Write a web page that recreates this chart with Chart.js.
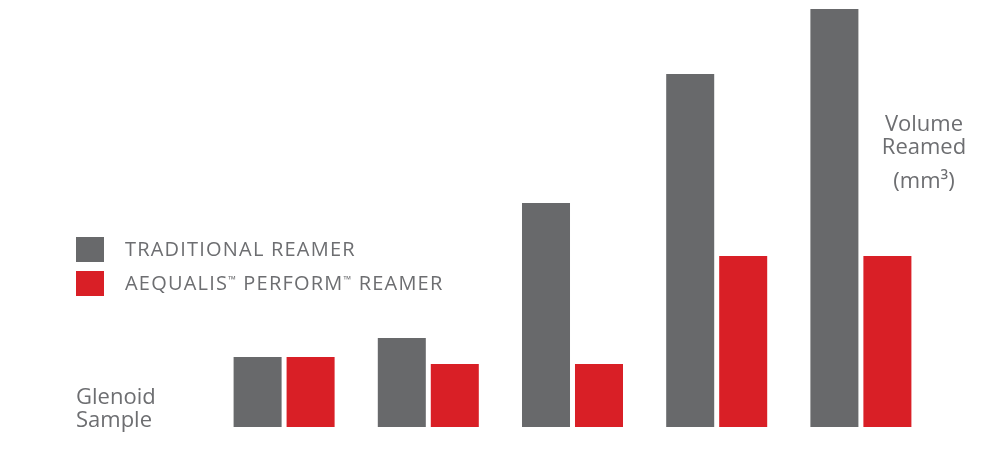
<!DOCTYPE html>
<html>
<head>
<meta charset="utf-8">
<script src="https://cdn.jsdelivr.net/npm/chart.js@4"></script>
<style>
  html, body { margin: 0; padding: 0; background: #fff; }
  #wrap { width: 990px; height: 450px; position: relative; }
</style>
</head>
<body>
<div id="wrap"><canvas id="chart" width="990" height="450"></canvas></div>
<script>
const samples = ["1", "2", "3", "4", "5"];
const traditionalReamer = [70, 89, 224, 353, 418];
const performReamer = [70, 63, 63, 171, 171];
const seriesNames = ["TRADITIONAL REAMER", "AEQUALIS\u2122 PERFORM\u2122 REAMER"];

const GRAY = "#68696b";
const RED = "#d91f26";
const TEXT = "#6d6e71";
const FONT = "'Open Sans', 'Noto Sans', sans-serif";

// draw text, shrinking any ™ into a small superscript
function drawLabel(ctx, text, x, y) {
  text.split(/(\u2122)/).forEach((part) => {
    if (!part) return;
    if (part === "\u2122") {
      ctx.font = "10px " + FONT;
      ctx.fillText(part, x, y - 7);
    } else {
      ctx.font = "20px " + FONT;
      ctx.fillText(part, x, y);
    }
    x += ctx.measureText(part).width;
  });
}

// legend + axis captions drawn straight onto the canvas
const captions = {
  id: "captions",
  afterDraw(chart) {
    const ctx = chart.ctx;
    ctx.save();
    ctx.textBaseline = "alphabetic";
    ctx.textAlign = "left";

    // legend
    chart.data.datasets.forEach((ds, i) => {
      const y = 237 + i * 34;
      ctx.fillStyle = ds.backgroundColor;
      ctx.fillRect(76, y, 28, 25);
      ctx.fillStyle = TEXT;
      ctx.letterSpacing = "1.2px";
      drawLabel(ctx, ds.label, 125, y + 19);
    });
    ctx.letterSpacing = "0px";

    // x caption
    ctx.fillStyle = TEXT;
    ctx.font = "22px " + FONT;
    ctx.fillText("Glenoid", 76, 404);
    ctx.fillText("Sample", 76, 427);

    // y caption
    ctx.textAlign = "center";
    ctx.fillText("Volume", 924, 131);
    ctx.fillText("Reamed", 924, 154);
    ctx.fillText("(mm\u00b3)", 924, 188);
    ctx.restore();
  }
};

new Chart(document.getElementById("chart"), {
  type: "bar",
  data: {
    labels: samples,
    datasets: [
      { label: seriesNames[0], data: traditionalReamer, backgroundColor: GRAY },
      { label: seriesNames[1], data: performReamer, backgroundColor: RED }
    ]
  },
  options: {
    responsive: false,
    animation: false,
    events: [],
    layout: { padding: { left: 212, right: 57, top: 9, bottom: 23 } },
    datasets: {
      bar: { categoryPercentage: 0.735, barPercentage: 0.906 }
    },
    scales: {
      x: { display: false },
      y: { display: false, min: 0, max: 418 }
    },
    plugins: {
      legend: { display: false },
      tooltip: { enabled: false }
    }
  },
  plugins: [captions]
});
</script>
</body>
</html>
